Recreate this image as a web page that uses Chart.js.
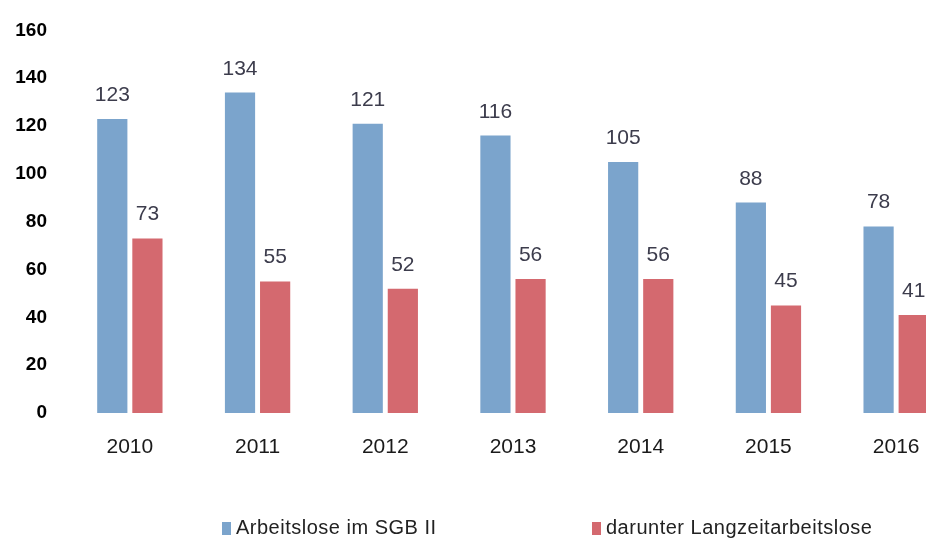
<!DOCTYPE html>
<html>
<head>
<meta charset="utf-8">
<script src="https://cdn.jsdelivr.net/npm/chart.js@4"></script>
<style>
    body { margin: 0; overflow: hidden; background: #fff; }
    #wrap { position: relative; width: 926px; height: 544px; overflow: hidden; }
    #legend { position: absolute; top: 516px; left: 0; font-family: "Liberation Sans", sans-serif; font-size: 20px; letter-spacing: 0.5px; color: #222; }
    #legend span.item { position: absolute; white-space: nowrap; }
    #legend i { display: inline-block; width: 9px; height: 13px; margin-right: 5px; vertical-align: -1px; }
</style>
</head>
<body>
<div id="wrap">
    <canvas id="unemployment-chart" width="962" height="544"></canvas>
    <div id="legend"></div>
</div>
<script>
var years = ["2010", "2011", "2012", "2013", "2014", "2015", "2016"];
var sgbTotal = [123, 134, 121, 116, 105, 88, 78];
var longTerm = [73, 55, 52, 56, 56, 45, 41];
var seriesNames = ["Arbeitslose im SGB II", "darunter Langzeitarbeitslose"];
var seriesColors = ["#7ba4cc", "#d4696f"];

// value labels above the bars
var barValues = {
    id: "barValues",
    afterDatasetsDraw: function(chart) {
        var ctx = chart.ctx;
        ctx.save();
        ctx.font = "21px 'Liberation Sans', sans-serif";
        ctx.fillStyle = "#3c3c4c";
        ctx.textAlign = "center";
        ctx.textBaseline = "alphabetic";
        chart.data.datasets.forEach(function(ds, i) {
            chart.getDatasetMeta(i).data.forEach(function(bar, j) {
                ctx.fillText(ds.data[j], bar.x, bar.y - 18);
            });
        });
        ctx.restore();
    }
};

var context = document.getElementById("unemployment-chart");
var chart = new Chart(context, {
    type: "bar",
    data: {
        labels: years,
        datasets: [
            {
                label: seriesNames[0],
                data: sgbTotal,
                backgroundColor: seriesColors[0],
                categoryPercentage: 0.55,
                barPercentage: 0.86
            },
            {
                label: seriesNames[1],
                data: longTerm,
                backgroundColor: seriesColors[1],
                categoryPercentage: 0.55,
                barPercentage: 0.86
            }
        ]
    },
    options: {
        responsive: false,
        animation: false,
        layout: { padding: { top: 25, right: 2, bottom: 0, left: 0 } },
        plugins: {
            legend: { display: false },
            tooltip: { enabled: false }
        },
        scales: {
            x: {
                grid: { display: false, drawTicks: false },
                border: { display: false },
                ticks: {
                    padding: 22,
                    color: "#1a1a1a",
                    font: { family: "'Liberation Sans', sans-serif", size: 21 }
                },
                afterFit: function(scale) { scale.height = 131; }
            },
            y: {
                min: 0,
                max: 160,
                grid: { display: false, drawTicks: false },
                border: { display: false },
                ticks: {
                    stepSize: 20,
                    padding: 19,
                    color: "#000",
                    font: { family: "'Liberation Sans', sans-serif", size: 19, weight: "bold" }
                },
                afterFit: function(scale) { scale.width = 66; }
            }
        }
    },
    plugins: [barValues]
});

// legend spaced like the original, below the axis
var legendPos = [222, 592];
var legend = document.getElementById("legend");
seriesNames.forEach(function(name, i) {
    var item = document.createElement("span");
    item.className = "item";
    item.style.left = legendPos[i] + "px";
    item.innerHTML = '<i style="background:' + seriesColors[i] + '"></i>' + name;
    legend.appendChild(item);
});
</script>
</body>
</html>
